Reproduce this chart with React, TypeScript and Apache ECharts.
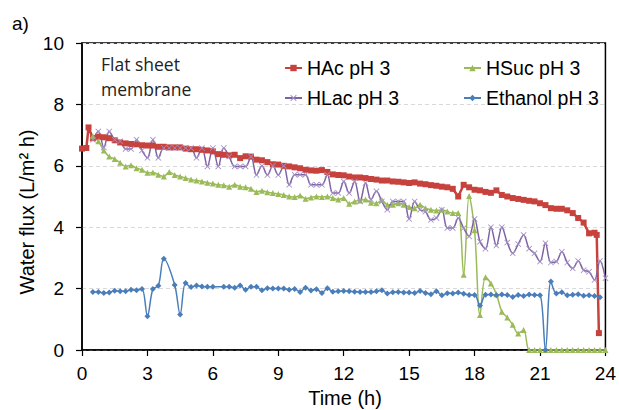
import { useEffect, useRef } from "react";
import * as echarts from "echarts";

const FONT = "'Liberation Sans', Arial, sans-serif";
const NOTE_FONT = "'Open Sans', 'Liberation Sans', sans-serif";

const seriesNames = ["HAc pH 3", "HSuc pH 3", "HLac pH 3", "Ethanol pH 3"];
const seriesColors = ["#C8423D", "#9BBB59", "#7E62A3", "#4A7EBB"];

// quarter-hour sampling grid helper (x positions only)
function quarterGrid(start: number, count: number): number[] {
  return Array.from({ length: count }, (_, i) => start + 0.25 * i);
}

// ---- HAc pH 3 (red squares)
const hacTime = [0, 0.2, 0.3, ...quarterGrid(0.5, 93), 23.6, 23.7];
const hacFlux = [
  6.56, 6.58, 7.25,
  6.90, 6.95,
  6.93, 6.90, 6.83, 6.76,
  6.73, 6.71, 6.70, 6.67,
  6.66, 6.66, 6.62, 6.62,
  6.60, 6.60, 6.60, 6.56,
  6.54, 6.54, 6.52, 6.50,
  6.47, 6.38, 6.36, 6.34,
  6.36, 6.25, 6.31, 6.30,
  6.20, 6.18, 6.12, 6.05,
  6.04, 6.00, 5.98, 5.95,
  5.92, 5.87, 5.85, 5.84,
  5.86, 5.80, 5.72, 5.70,
  5.69, 5.65, 5.62, 5.62,
  5.60, 5.57, 5.55, 5.52,
  5.52, 5.49, 5.48, 5.46,
  5.44, 5.46, 5.42, 5.40,
  5.37, 5.35, 5.32, 5.30,
  5.25, 5.00, 5.38, 5.30,
  5.22, 5.20, 5.15, 5.12,
  5.20, 5.05, 5.00, 4.95,
  4.92, 4.89, 4.86, 4.84,
  4.78, 4.72, 4.62, 4.60,
  4.60, 4.55, 4.46, 4.30,
  4.15, 3.80, 3.82,
  3.75, 0.55,
];

// ---- HSuc pH 3 (green triangles), 0.5 h .. 24 h
const hsucTime = quarterGrid(0.5, 95);
const hsucFlux = [
  6.96, 6.80,
  6.50, 6.30, 6.22, 6.10,
  5.98, 6.02, 5.92, 5.87,
  5.77, 5.78, 5.71, 5.65,
  5.80, 5.70, 5.65, 5.60,
  5.55, 5.52, 5.49, 5.45,
  5.42, 5.38, 5.37, 5.32,
  5.38, 5.32, 5.30, 5.25,
  5.15, 5.19, 5.14, 5.11,
  5.08, 5.05, 5.00, 4.98,
  5.03, 4.93, 4.97, 5.00,
  4.98, 5.00, 4.95, 4.90,
  4.95, 4.76, 4.84, 4.87,
  4.90, 4.80, 4.78, 4.89,
  4.73, 4.73, 4.78, 4.73,
  4.66, 4.62, 4.73, 4.62,
  4.57, 4.54, 4.57, 4.51,
  4.46, 4.46, 2.45, 5.02,
  3.90, 1.14, 2.37, 2.17,
  1.82, 1.25, 1.06, 0.82,
  0.54, 0.65, 0, 0,
  0, 0, 0, 0,
  0, 0, 0, 0,
  0, 0, 0, 0,
  0,
];

// ---- HLac pH 3 (purple crosses), 0.5 h .. 24 h
const hlacTime = quarterGrid(0.5, 95);
const hlacFlux = [
  6.85, 7.12,
  6.60, 7.12, 6.85, 6.80,
  6.55, 6.55, 6.85, 6.50,
  6.26, 6.85, 6.26, 6.58,
  6.58, 6.58, 6.58, 6.58,
  6.58, 6.26, 6.58, 5.98,
  6.58, 5.98, 6.58, 6.30,
  5.98, 5.98, 5.98, 6.30,
  5.70, 6.00, 5.70, 6.00,
  5.70, 6.00, 5.38, 5.71,
  5.71, 5.71, 5.38, 5.38,
  5.38, 5.71, 5.11, 5.11,
  5.49, 5.11, 5.49, 4.84,
  5.44, 4.90, 5.17, 4.84,
  4.57, 4.84, 4.84, 4.84,
  4.27, 4.84, 4.57, 4.51,
  4.24, 4.30, 4.57, 3.97,
  3.97, 4.30, 3.97, 3.70,
  4.27, 3.53, 3.30, 4.00,
  3.40, 4.00, 3.50, 3.15,
  3.45, 3.75, 3.30, 3.15,
  2.88, 3.48, 2.85, 2.88,
  3.20, 2.85, 2.66, 2.90,
  2.60, 2.55, 2.28, 2.90,
  2.34,
];

// ---- Ethanol pH 3 (blue diamonds), 0.5 h .. 23.75 h (null = no sample)
const ethTime = quarterGrid(0.5, 94);
const ethFlux: (number | null)[] = [
  1.89, 1.89,
  1.86, 1.87, 1.93, 1.91,
  1.91, 1.96, 1.95, 1.99,
  1.10, 1.99, 2.09, 2.97,
  null, 2.12, 1.16, 2.18,
  2.05, 2.10, 2.07, 2.06,
  2.06, null, 2.06, 2.06,
  2.03, 2.10, 1.96, 2.06,
  2.06, 1.95, 2.01, 2.00,
  2.00, 2.00, 1.96, 1.99,
  1.89, 2.03, 1.94, 1.98,
  1.86, 2.01, 1.90, 1.91,
  1.92, 1.91, 1.90, 1.89,
  1.89, 1.89, 1.91, 1.95,
  1.84, 1.88, 1.89, 1.87,
  1.87, 1.86, 1.92, 1.86,
  1.82, 1.91, 1.78, 1.85,
  1.84, 1.87, 1.83, 1.79,
  1.79, 1.45, 1.80, 1.81,
  1.78, 1.81, 1.79, 1.73,
  1.79, 1.76, 1.81, 1.79,
  1.78, 0, 2.23, 1.84,
  1.88, 1.78, 1.80, 1.82,
  1.77, 1.78, 1.76, 1.72,
];

function pairs(t: number[], v: (number | null)[]): number[][] {
  const out: number[][] = [];
  for (let i = 0; i < t.length && i < v.length; i++) {
    const y = v[i];
    if (y !== null && y !== undefined) out.push([t[i], y]);
  }
  return out;
}

const CROSS =
  "path://M1,0L5,4L9,0L10,1L6,5L10,9L9,10L5,6L1,10L0,9L4,5L0,1Z";

export default function App() {
  const ref = useRef<HTMLDivElement>(null);
  useEffect(() => {
    if (!ref.current) return;
    const chart = echarts.init(ref.current, undefined, { renderer: "svg" });
    const legendText = { fontFamily: FONT, fontSize: 19.5, color: "#000" };
    chart.setOption({
      animation: false,
      backgroundColor: "#fff",
      grid: {
        left: 82,
        top: 43,
        width: 526,
        height: 307,
        show: true,
        borderColor: "#000",
        borderWidth: 1.5,
        backgroundColor: "transparent",
      },
      legend: [
        {
          data: [seriesNames[0], seriesNames[2]],
          orient: "vertical",
          left: 284,
          top: 58,
          padding: 0,
          itemWidth: 17,
          itemHeight: 8,
          itemGap: 10,
          selectedMode: false,
          textStyle: legendText,
        },
        {
          data: [seriesNames[1], seriesNames[3]],
          orient: "vertical",
          left: 463,
          top: 58,
          padding: 0,
          itemWidth: 17,
          itemHeight: 8,
          itemGap: 10,
          selectedMode: false,
          textStyle: legendText,
        },
      ],
      xAxis: {
        type: "value",
        min: 0,
        max: 24,
        interval: 3,
        axisLine: { lineStyle: { color: "#000", width: 1.5 } },
        axisTick: { show: true, length: 6, lineStyle: { color: "#000", width: 1.2 } },
        axisLabel: { fontFamily: FONT, fontSize: 19, color: "#000", margin: 14 },
        splitLine: { show: false },
      },
      yAxis: {
        type: "value",
        min: 0,
        max: 10,
        interval: 2,
        axisLine: { show: true, lineStyle: { color: "#000", width: 1.5 } },
        axisTick: { show: true, length: 6, lineStyle: { color: "#000", width: 1.2 } },
        axisLabel: { fontFamily: FONT, fontSize: 19, color: "#000", margin: 18 },
        splitLine: { show: true, lineStyle: { color: "#d9d9d9", type: [4, 3], width: 1 } },
      },
      graphic: [
        {
          type: "text",
          x: 12,
          y: 23,
          style: { text: "a)", font: `19px ${FONT}`, fill: "#000", textAlign: "left", textVerticalAlign: "middle" },
        },
        {
          type: "text",
          x: 101,
          y: 64,
          style: { text: "Flat sheet", font: `17.5px ${NOTE_FONT}`, fill: "#222", textAlign: "left", textVerticalAlign: "middle" },
        },
        {
          type: "text",
          x: 101,
          y: 89,
          style: { text: "membrane", font: `17.5px ${NOTE_FONT}`, fill: "#222", textAlign: "left", textVerticalAlign: "middle" },
        },
        {
          type: "text",
          x: 345,
          y: 398,
          style: { text: "Time (h)", font: `20px ${FONT}`, fill: "#000", textAlign: "center", textVerticalAlign: "middle" },
        },
        {
          type: "text",
          x: 27,
          y: 212,
          rotation: Math.PI / 2,
          style: { text: "Water flux (L/m² h)", font: `20px ${FONT}`, fill: "#000", textAlign: "center", textVerticalAlign: "middle" },
        },
      ],
      series: [
        {
          name: seriesNames[0],
          type: "line",
          data: pairs(hacTime, hacFlux),
          color: seriesColors[0],
          symbol: "rect",
          symbolSize: 6,
          lineStyle: { width: 2.5, color: seriesColors[0] },
          itemStyle: { color: seriesColors[0] },
          smooth: false,
        },
        {
          name: seriesNames[1],
          type: "line",
          data: pairs(hsucTime, hsucFlux),
          color: seriesColors[1],
          symbol: "triangle",
          symbolSize: 6,
          lineStyle: { width: 1.5, color: seriesColors[1] },
          itemStyle: { color: seriesColors[1] },
          smooth: 0.35,
        },
        {
          name: seriesNames[2],
          type: "line",
          data: pairs(hlacTime, hlacFlux),
          color: seriesColors[2],
          symbol: CROSS,
          symbolSize: 6,
          lineStyle: { width: 1.5, color: seriesColors[2] },
          itemStyle: { color: "#A28FC6" },
          smooth: 0.35,
        },
        {
          name: seriesNames[3],
          type: "line",
          data: pairs(ethTime, ethFlux),
          color: seriesColors[3],
          symbol: "diamond",
          symbolSize: 6,
          lineStyle: { width: 1.5, color: seriesColors[3] },
          itemStyle: { color: seriesColors[3] },
          smooth: 0.35,
          connectNulls: true,
        },
      ],
    });
    return () => chart.dispose();
  }, []);
  return (
    <div
      ref={ref}
      style={{ position: "absolute", left: 0, top: 0, width: 619, height: 410 }}
    />
  );
}
